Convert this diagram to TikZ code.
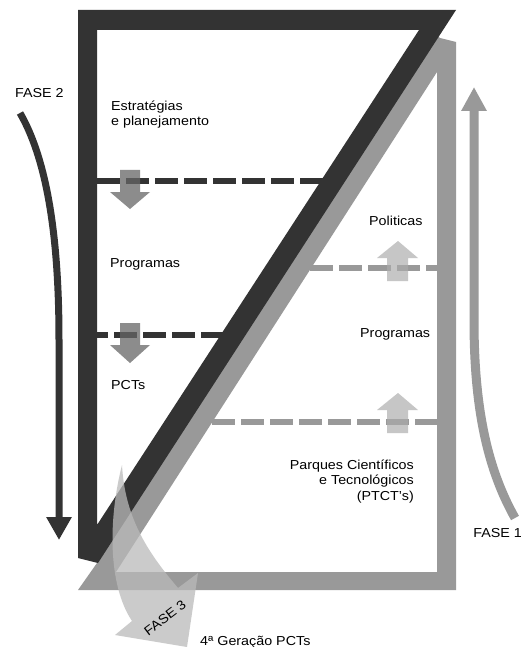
\documentclass[tikz,border=0pt]{standalone}
\usepackage{fontspec}
\setmainfont{Liberation Sans}[FakeStretch=1.1]
\usetikzlibrary{arrows.meta}
\definecolor{dk}{gray}{0.2}
\definecolor{md}{gray}{0.6}
\definecolor{dnarrow}{gray}{0.4}
\definecolor{uparrow}{gray}{0.67}
\definecolor{f3fill}{gray}{0.73}
\begin{document}
\begin{tikzpicture}[x=1pt,y=-1pt,
  txt/.style={font=\fontsize{13}{15.5}\selectfont, inner sep=0pt, text=black},
  dkdash/.style={draw=dk, line width=5.5pt, dash pattern=on 23pt off 6pt},
  mddash/.style={draw=md, line width=5.5pt, dash pattern=on 23pt off 6pt},
  dnblock/.style={fill=dnarrow, fill opacity=0.75},
  upblock/.style={fill=uparrow, fill opacity=0.68},
  phasearrow/.style={line cap=butt}]
\useasboundingbox[fill=white] (0,0) rectangle (524,647);

% dashed level lines
\draw[dkdash] (97,181) -- (330,181);
\draw[dkdash, dash phase=12pt] (97,335) -- (230,335);
\draw[mddash] (310,268) -- (437,268);
\draw[mddash] (212,422) -- (437,422);

% block arrows
\fill[dnblock] (120,170) -- (140,170) -- (140,192) -- (150,192) -- (130,209) -- (110,192) -- (120,192) -- cycle;
\fill[dnblock] (120,323) -- (140,323) -- (140,345) -- (150,345) -- (130,363) -- (110,345) -- (120,345) -- cycle;
\fill[upblock] (387,281) -- (408,281) -- (408,258) -- (418,258) -- (398,241) -- (377,258) -- (387,258) -- cycle;
\fill[upblock] (387,433) -- (408,433) -- (408,410) -- (418,410) -- (398,393) -- (377,410) -- (387,410) -- cycle;

% gray frame (lower triangle)
\fill[md, even odd rule] (78,590) -- (456,590) -- (456,42) -- (440,38) -- (430,30) -- (97,563) -- cycle
  (437,72) -- (437,572) -- (116,572) -- cycle;
% dark frame (upper triangle)
\fill[dk, even odd rule] (78,10) -- (456,10) -- (98,563) -- (78,558) -- cycle
  (97,30) -- (419,30) -- (97,525) -- cycle;

% phase arrows
\draw[dk, line width=7pt, phasearrow, -{Triangle[width=24pt,length=23pt]}]
  (20,113) .. controls (50,165) and (59,250) .. (59,340) -- (59,540);
\draw[md, line width=9pt, phasearrow, -{Triangle[width=24pt,length=24pt]}]
  (515,518) .. controls (488,470) and (474,410) .. (474,320) -- (474,87);

% FASE 3 curved block arrow
\fill[f3fill, fill opacity=0.75] (122,465) .. controls (108,520) and (108,585) .. (132,621)
  -- (115,635) -- (187,647) -- (198,573) -- (178,588)
  .. controls (150,555) and (125,520) .. (122,465) -- cycle;

% texts (base anchor of a multi-line node = baseline of its last line)
\node[txt, anchor=base west] (f2) at (15,98) {FASE 2};
\node[txt, anchor=base west, align=left] (est) at (111,126) {Estratégias\\e planejamento};
\node[txt, anchor=base west] (prog1) at (110,267) {Programas};
\node[txt, anchor=base west] (pcts) at (111,389) {PCTs};
\node[txt, anchor=base west] (pol) at (369,225) {Politicas};
\node[txt, anchor=base west] (prog2) at (360,337) {Programas};
\node[txt, anchor=base east, align=right] (parq) at (414,500) {Parques Científicos\\e Tecnológicos\\(PTCT’s)};
\node[txt, anchor=base east] (f1) at (522,537) {FASE 1};
\node[txt, anchor=base west] (g4) at (200,645) {4ª Geração PCTs};
\node[txt, rotate=37] (f3) at (165,618) {FASE 3};
\end{tikzpicture}
\end{document}
